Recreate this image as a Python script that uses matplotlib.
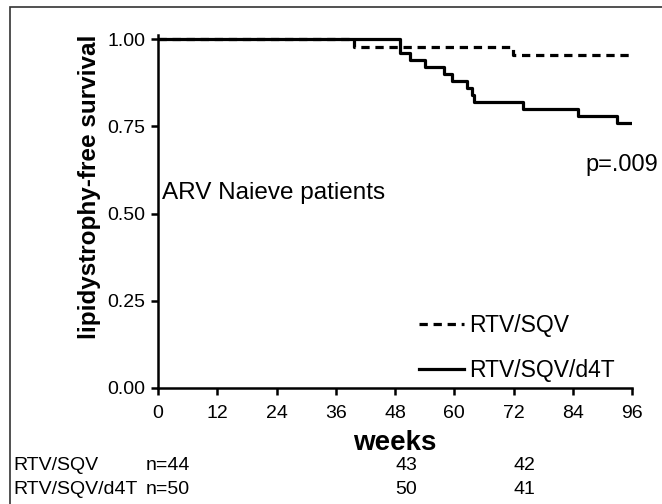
import matplotlib
matplotlib.use("Agg")
import matplotlib.pyplot as plt
from matplotlib.patches import Rectangle

plt.rcParams["font.family"] = ["Liberation Sans", "DejaVu Sans"]

# Kaplan-Meier step data (weeks, survival probability)
weeks_rtv_sqv = [0, 39.7, 71.8, 96]
surv_rtv_sqv = [1.00, 0.977, 0.955, 0.955]

weeks_d4t = [0, 49, 51, 54, 58, 59.5, 62.5, 63.5, 64, 74, 85, 93, 96]
surv_d4t = [1.00, 0.96, 0.94, 0.92, 0.90, 0.88, 0.86, 0.84, 0.82, 0.80, 0.78, 0.76, 0.76]

x_ticks = [0, 12, 24, 36, 48, 60, 72, 84, 96]
y_ticks = [0.00, 0.25, 0.50, 0.75, 1.00]

# Numbers at risk
risk_groups = ["RTV/SQV", "RTV/SQV/d4T"]
risk_n = ["n=44", "n=50"]
risk_weeks = [48, 72]
risk_counts = [[43, 42], [50, 41]]

fig = plt.figure(figsize=(6.62, 5.04), dpi=100)
W, H = 662, 504
ax = fig.add_axes([158 / W, (H - 388) / H, 474 / W, 353 / H])

lw = 2.3
ax.step(weeks_rtv_sqv, surv_rtv_sqv, where="post", color="black", lw=lw,
        dashes=(2.6, 1.8), dash_capstyle="butt", label="RTV/SQV")
ax.step(weeks_d4t, surv_d4t, where="post", color="black", lw=lw,
        label="RTV/SQV/d4T")

ax.set_xlim(0, 96)
ax.set_ylim(0, 1.0115)
ax.set_xticks(x_ticks)
ax.set_xticklabels([str(t) for t in x_ticks])
ax.set_yticks(y_ticks)
ax.set_yticklabels([f"{v:.2f}" for v in y_ticks])
ax.tick_params(axis="both", length=5, width=1.8, direction="out",
               labelsize=14, color="black")
ax.tick_params(axis="x", pad=7)
ax.tick_params(axis="y", pad=4)

for side in ["top", "right"]:
    ax.spines[side].set_visible(False)
for side in ["left", "bottom"]:
    ax.spines[side].set_linewidth(1.8)

ax.set_xlabel("weeks", fontsize=20, fontweight="bold", labelpad=6)
ax.set_ylabel("lipidystrophy-free survival", fontsize=17.5, fontweight="bold")
ax.yaxis.set_label_coords(-0.12, 0.57)

ax.text(0.8, 0.56, "ARV Naieve patients", fontsize=17.5, va="center", ha="left")
ax.text(86.5, 0.638, "p=.009", fontsize=17, va="center", ha="left")

leg = ax.legend(loc="upper left", bbox_to_anchor=(0.5306, 0.235),
                frameon=False, fontsize=16.5, handlelength=1.96, handletextpad=0.22,
                labelspacing=0.95, borderaxespad=0)

# Numbers-at-risk table below the axis
row_y = [(H - 466) / H, (H - 489) / H]
for i, grp in enumerate(risk_groups):
    fig.text(13 / W, row_y[i], grp, fontsize=14, va="center", ha="left")
    fig.text(146 / W, row_y[i], risk_n[i], fontsize=14, va="center", ha="left")
    for wk, cnt in zip(risk_weeks, risk_counts[i]):
        xf = fig.transFigure.inverted().transform(ax.transData.transform((wk, 0)))[0]
        fig.text(xf, row_y[i], str(cnt), fontsize=14, va="center", ha="left")

# Outer frame
fig.add_artist(Rectangle((10 / W, -0.1), 1.2, (H - 7) / H + 0.1, transform=fig.transFigure,
                         fill=False, edgecolor="#333333", lw=1.2))

fig.savefig("out.png", dpi=100)
